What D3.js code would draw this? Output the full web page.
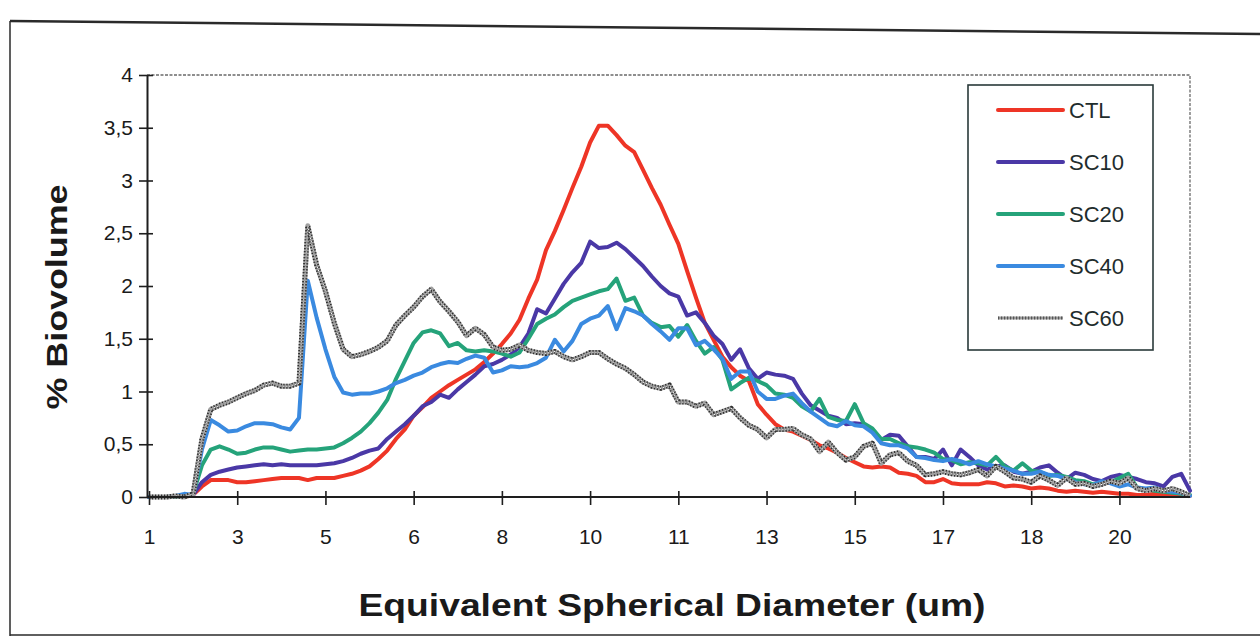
<!DOCTYPE html>
<html>
<head>
<meta charset="utf-8">
<script src="https://cdn.jsdelivr.net/npm/d3@7/dist/d3.min.js"></script>
<style>
  html, body { margin: 0; padding: 0; background: #fff; }
  svg { display: block; font-family: "Liberation Sans", Arial, sans-serif; }
</style>
</head>
<body>
<svg id="chart" width="1260" height="639"></svg>
<script>
// ---------------- data ----------------
const seriesNames = ["CTL", "SC10", "SC20", "SC40", "SC60"];
const seriesColors = ["#ee3526", "#4a38a6", "#25a37a", "#3a8ae0", "#555555"];

const tickLabels = ["1", "3", "5", "6", "8", "10", "11", "13", "15", "17", "18", "20"];
const labelEvery = 10;           // one diameter label every 10 size bins
const yTicks = [0, 0.5, 1, 1.5, 2, 2.5, 3, 3.5, 4];

const CTL = [0,0,0,0,0,0.02,0.10,0.16,0.16,0.16,0.14,0.14,0.15,0.16,0.17,0.18,0.18,0.18,0.16,0.18,
  0.18,0.18,0.20,0.22,0.25,0.29,0.36,0.44,0.55,0.64,0.77,0.85,0.94,1.00,1.06,1.11,1.16,1.21,1.28,1.36,
  1.45,1.55,1.68,1.88,2.06,2.34,2.52,2.72,2.93,3.13,3.36,3.52,3.52,3.43,3.33,3.27,3.10,2.93,2.77,2.58,
  2.40,2.14,1.89,1.65,1.49,1.33,1.23,1.15,1.10,0.88,0.78,0.69,0.64,0.62,0.58,0.54,0.49,0.46,0.42,0.37,
  0.33,0.29,0.28,0.29,0.28,0.23,0.22,0.20,0.14,0.14,0.17,0.13,0.12,0.12,0.12,0.14,0.13,0.10,0.11,0.10,
  0.08,0.09,0.08,0.06,0.05,0.06,0.05,0.04,0.05,0.04,0.03,0.03,0.02,0.02,0.03,0.02,0.02,0.02,0.01];

const SC10 = [0,0,0,0,0.01,0.02,0.14,0.21,0.24,0.26,0.28,0.29,0.30,0.31,0.30,0.31,0.30,0.30,0.30,0.30,
  0.31,0.32,0.34,0.37,0.41,0.44,0.46,0.55,0.62,0.69,0.77,0.86,0.90,0.97,0.94,1.02,1.09,1.16,1.24,1.26,
  1.30,1.35,1.42,1.55,1.78,1.74,1.88,2.02,2.13,2.22,2.42,2.36,2.37,2.41,2.35,2.27,2.19,2.09,2.00,1.93,
  1.90,1.72,1.75,1.65,1.53,1.45,1.30,1.40,1.22,1.12,1.18,1.16,1.15,1.12,0.98,0.87,0.82,0.77,0.75,0.69,
  0.70,0.69,0.64,0.54,0.59,0.58,0.48,0.38,0.38,0.36,0.45,0.30,0.45,0.38,0.30,0.26,0.29,0.30,0.24,0.22,
  0.24,0.28,0.30,0.23,0.17,0.23,0.21,0.17,0.15,0.19,0.21,0.19,0.17,0.14,0.13,0.10,0.19,0.22,0.06];

const SC20 = [0,0,0,0,0,0.03,0.30,0.45,0.48,0.45,0.41,0.42,0.45,0.47,0.47,0.45,0.43,0.44,0.45,0.45,
  0.46,0.47,0.51,0.56,0.62,0.70,0.80,0.92,1.12,1.29,1.46,1.56,1.58,1.55,1.43,1.46,1.39,1.38,1.39,1.38,
  1.36,1.33,1.37,1.50,1.64,1.69,1.73,1.80,1.86,1.89,1.92,1.95,1.97,2.07,1.86,1.89,1.72,1.65,1.61,1.62,
  1.52,1.63,1.48,1.36,1.42,1.30,1.02,1.08,1.13,1.10,1.06,0.98,0.97,0.94,0.86,0.81,0.93,0.76,0.73,0.72,
  0.88,0.70,0.65,0.55,0.55,0.51,0.48,0.47,0.45,0.42,0.36,0.35,0.31,0.33,0.32,0.30,0.38,0.29,0.25,0.32,
  0.25,0.24,0.20,0.21,0.19,0.16,0.15,0.12,0.14,0.14,0.18,0.22,0.09,0.07,0.06,0.05,0.04,0.03,0.02];

const SC40 = [0,0,0,0.01,0.03,0.02,0.45,0.73,0.68,0.62,0.63,0.67,0.70,0.70,0.69,0.66,0.64,0.75,2.05,1.70,
  1.40,1.14,0.99,0.97,0.98,0.98,1.00,1.03,1.08,1.11,1.15,1.18,1.23,1.26,1.28,1.27,1.31,1.34,1.32,1.18,
  1.20,1.24,1.23,1.24,1.27,1.32,1.49,1.38,1.48,1.64,1.69,1.72,1.81,1.59,1.79,1.76,1.72,1.64,1.57,1.49,
  1.60,1.60,1.44,1.48,1.40,1.31,1.12,1.19,1.19,1.00,0.93,0.93,0.96,0.98,0.89,0.81,0.75,0.69,0.67,0.72,
  0.68,0.67,0.61,0.51,0.49,0.49,0.46,0.38,0.37,0.35,0.34,0.36,0.34,0.31,0.34,0.31,0.29,0.27,0.25,0.22,
  0.22,0.24,0.21,0.20,0.17,0.14,0.12,0.11,0.15,0.13,0.10,0.12,0.09,0.08,0.09,0.06,0.05,0.04,0.01];

const SC60 = [0,0,0,0.01,0,0.03,0.55,0.83,0.87,0.90,0.94,0.98,1.01,1.06,1.08,1.05,1.05,1.08,2.57,2.20,
  1.95,1.65,1.40,1.33,1.35,1.38,1.42,1.48,1.63,1.72,1.80,1.90,1.97,1.85,1.76,1.66,1.53,1.60,1.54,1.42,
  1.39,1.40,1.44,1.39,1.37,1.36,1.38,1.33,1.30,1.33,1.37,1.37,1.31,1.26,1.22,1.16,1.09,1.05,1.03,1.06,
  0.90,0.90,0.86,0.89,0.78,0.81,0.84,0.75,0.68,0.64,0.56,0.64,0.64,0.65,0.59,0.55,0.43,0.52,0.42,0.35,
  0.38,0.48,0.51,0.32,0.40,0.42,0.34,0.30,0.21,0.22,0.24,0.22,0.21,0.23,0.26,0.20,0.29,0.24,0.18,0.17,
  0.14,0.20,0.16,0.11,0.18,0.12,0.13,0.10,0.12,0.15,0.13,0.18,0.08,0.06,0.08,0.06,0.08,0.05,0.01];

const seriesValues = [CTL, SC10, SC20, SC40, SC60];
const bins = d3.range(CTL.length);   // size-bin categories along the x axis

// ---------------- layout ----------------
const svg = d3.select("#chart");
const plot = { left: 147, top: 75, right: 1190, bottom: 497 };

const x = d3.scaleLinear().domain([0, bins.length - 1]).range([plot.left + 2, plot.right]);
const y = d3.scaleLinear().domain([0, 4]).range([plot.bottom, plot.top]);

// outer frame of the scanned figure
svg.append("line").attr("x1", 10).attr("y1", 21).attr("x2", 1260).attr("y2", 34)
  .attr("stroke", "#2a2a2a").attr("stroke-width", 2.5);
svg.append("line").attr("x1", 10).attr("y1", 21).attr("x2", 10).attr("y2", 636)
  .attr("stroke", "#2a2a2a").attr("stroke-width", 1.5);
svg.append("line").attr("x1", 10).attr("y1", 635).attr("x2", 1260).attr("y2", 635)
  .attr("stroke", "#2a2a2a").attr("stroke-width", 1.5);

// plot area border (dotted top/right)
svg.append("path")
  .attr("d", `M${plot.left},${plot.top}H${plot.right}V${plot.bottom}`)
  .attr("fill", "none").attr("stroke", "#6a6a6a").attr("stroke-width", 1.3)
  .attr("stroke-dasharray", "3,1.5");

// ---------------- series ----------------
const line = d3.line().x((d, i) => x(bins[i])).y(d => y(d)).curve(d3.curveLinear);

const gLines = svg.append("g");
seriesValues.forEach((vals, k) => {
  if (seriesNames[k] === "SC60") {
    gLines.append("path").attr("d", line(vals)).attr("fill", "none")
      .attr("stroke", "#a0a0a0").attr("stroke-width", 5).attr("stroke-linejoin", "round");
    gLines.append("path").attr("d", line(vals)).attr("fill", "none")
      .attr("stroke", "#2e2e2e").attr("stroke-width", 5).attr("stroke-dasharray", "1.2,1.8")
      .attr("stroke-linejoin", "round");
    gLines.append("path").attr("d", line(vals)).attr("fill", "none")
      .attr("stroke", "#ffffff").attr("stroke-width", 1.3).attr("stroke-dasharray", "1,2")
      .attr("stroke-linejoin", "round");
  } else {
    gLines.append("path").attr("d", line(vals)).attr("fill", "none")
      .attr("stroke", seriesColors[k]).attr("stroke-width", 4)
      .attr("stroke-linejoin", "round").attr("stroke-linecap", "round");
  }
});

// ---------------- axes ----------------
const fmt = d => String(d).replace(".", ",");
const yAxis = svg.append("g").attr("transform", `translate(${plot.left},0)`)
  .call(d3.axisLeft(y).tickValues(yTicks).tickFormat(fmt).tickSizeInner(8).tickSizeOuter(0).tickPadding(6));
yAxis.select(".domain").attr("stroke", "#1e1e1e").attr("stroke-width", 2);
yAxis.selectAll(".tick line").attr("stroke", "#1e1e1e").attr("stroke-width", 1.6);
yAxis.selectAll(".tick").append("line").attr("x1", 0).attr("x2", 6)
  .attr("stroke", "#1e1e1e").attr("stroke-width", 1.6);
yAxis.selectAll(".tick text").attr("font-size", 21).attr("fill", "#1a1a1a");

const xTickBins = tickLabels.map((t, k) => k * labelEvery);
const xAxis = svg.append("g").attr("transform", `translate(0,${plot.bottom})`)
  .call(d3.axisBottom(x).tickValues(xTickBins).tickFormat((d, k) => tickLabels[k])
    .tickSizeInner(8).tickSizeOuter(0).tickPadding(24));
xAxis.select(".domain").attr("stroke", "#1e1e1e").attr("stroke-width", 1.8)
  .attr("d", `M${plot.left},0H${plot.right}`);
xAxis.selectAll(".tick line").attr("stroke", "#1e1e1e").attr("stroke-width", 1.6).attr("y1", -6);
xAxis.selectAll(".tick text").attr("font-size", 21).attr("fill", "#1a1a1a");

// ---------------- titles ----------------
svg.append("text").attr("x", 672).attr("y", 616).attr("text-anchor", "middle")
  .attr("font-size", 31).attr("font-weight", "bold").attr("fill", "#1a1a1a")
  .attr("textLength", 627).attr("lengthAdjust", "spacingAndGlyphs")
  .text("Equivalent Spherical Diameter (um)");

svg.append("text").attr("transform", "translate(67,297) rotate(-90)").attr("text-anchor", "middle")
  .attr("font-size", 30).attr("font-weight", "bold").attr("fill", "#1a1a1a")
  .attr("textLength", 225).attr("lengthAdjust", "spacingAndGlyphs")
  .text("% Biovolume");

// ---------------- legend ----------------
const lg = svg.append("g");
lg.append("rect").attr("x", 968).attr("y", 85).attr("width", 185).attr("height", 265)
  .attr("fill", "#fff").attr("stroke", "#2a3a3a").attr("stroke-width", 1.6);
const legendY = d3.scalePoint().domain(seriesNames).range([110, 318]);
seriesNames.forEach((name, k) => {
  const yy = legendY(name);
  if (name === "SC60") {
    lg.append("line").attr("x1", 998).attr("x2", 1063).attr("y1", yy).attr("y2", yy)
      .attr("stroke", "#a0a0a0").attr("stroke-width", 3);
    lg.append("line").attr("x1", 998).attr("x2", 1063).attr("y1", yy).attr("y2", yy)
      .attr("stroke", "#555").attr("stroke-width", 3).attr("stroke-dasharray", "1.2,1.8");
  } else {
    lg.append("line").attr("x1", 998).attr("x2", 1063).attr("y1", yy).attr("y2", yy)
      .attr("stroke", seriesColors[k]).attr("stroke-width", 4).attr("stroke-linecap", "round");
  }
  lg.append("text").attr("x", 1069).attr("y", yy).attr("dy", "0.36em")
    .attr("font-size", 22).attr("fill", "#1f2d2d").text(name);
});
</script>
</body>
</html>
